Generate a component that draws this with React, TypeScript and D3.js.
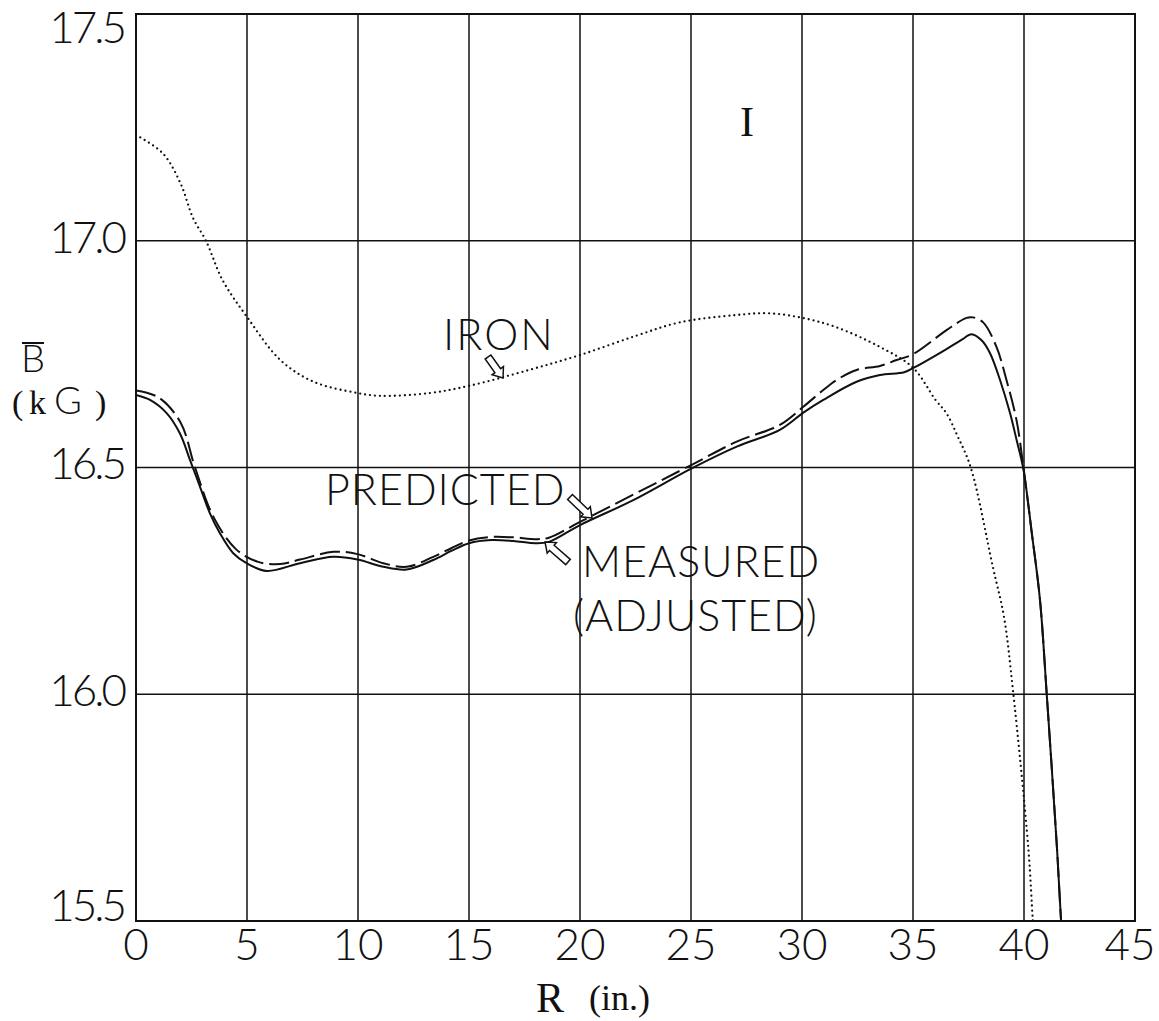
import React from "react";
import * as d3 from "d3";

const W = 1159;
const H = 1021;

const xTicks = [0, 5, 10, 15, 20, 25, 30, 35, 40, 45];
const yTicks = [15.5, 16.0, 16.5, 17.0, 17.5];
const yTickLabels = ["15.5", "16.0", "16.5", "17.0", "17.5"];

// IRON (dotted)
const ironR = [0, 1.2, 2, 2.57, 3.15, 3.9, 5, 6.5, 8, 10, 11, 13.2, 15, 17.7, 20, 22.5, 24.5, 27, 28.5, 30, 31.5, 33.5, 35, 36, 36.5, 37, 37.6, 38.6, 39.1, 39.5, 40.2, 40.4, 40.5];
const ironB = [17.233, 17.193, 17.127, 17.05, 17.0, 16.913, 16.832, 16.737, 16.689, 16.664, 16.658, 16.664, 16.68, 16.715, 16.748, 16.79, 16.82, 16.836, 16.84, 16.83, 16.81, 16.766, 16.72, 16.65, 16.62, 16.57, 16.5, 16.28, 16.17, 16.01, 15.657, 15.5, 15.44];

// MEASURED (ADJUSTED) (solid)
const measR = [0, 0.63, 1.38, 1.98, 2.43, 2.88, 3.33, 3.78, 4.38, 4.98, 5.89, 7.39, 8.89, 9.98, 11.14, 12.19, 13.39, 14.2, 15.0, 16.0, 17.0, 18.0, 18.6, 20.0, 22.4, 25.03, 27.06, 29.0, 30.06, 30.96, 32.46, 33.51, 34.6, 35.04, 36.3, 37.2, 37.64, 38.1, 38.47, 38.92, 39.37, 39.67, 39.97, 40.35, 40.72, 41.02, 41.49, 41.67, 41.75];
const measB = [16.66, 16.649, 16.62, 16.575, 16.517, 16.458, 16.399, 16.355, 16.311, 16.289, 16.272, 16.289, 16.303, 16.297, 16.281, 16.275, 16.296, 16.316, 16.333, 16.34, 16.338, 16.333, 16.336, 16.373, 16.428, 16.498, 16.546, 16.583, 16.621, 16.649, 16.689, 16.704, 16.71, 16.72, 16.755, 16.782, 16.794, 16.78, 16.752, 16.693, 16.62, 16.56, 16.497, 16.356, 16.208, 16.003, 15.657, 15.5, 15.45];

// PREDICTED (dashed)
const predR = [0, 1, 2, 2.66, 3.5, 4.5, 5.5, 6.5, 7.39, 8.89, 9.98, 11.14, 12.19, 13.39, 14.2, 15.0, 16.0, 17.0, 18.0, 18.6, 20.0, 25.03, 27.06, 29.0, 30.06, 30.96, 31.56, 32.46, 33.51, 34.26, 35.01, 36.51, 37.41, 37.71, 38.16, 38.76, 39.21, 39.66, 39.97, 40.35, 40.72, 41.02, 41.49, 41.67, 41.75];
const predB = [16.67, 16.655, 16.6, 16.5, 16.39, 16.32, 16.292, 16.287, 16.297, 16.314, 16.309, 16.289, 16.281, 16.303, 16.322, 16.339, 16.347, 16.346, 16.342, 16.345, 16.38, 16.506, 16.557, 16.594, 16.634, 16.671, 16.693, 16.715, 16.724, 16.737, 16.75, 16.803, 16.83, 16.831, 16.82, 16.766, 16.693, 16.605, 16.502, 16.356, 16.208, 16.003, 15.657, 15.5, 15.45];

const M = { left: 136, right: 1135, top: 14, bottom: 921 };

export default function App() {
  const x = d3.scaleLinear().domain([0, 45]).range([M.left, M.right]);
  const y = d3.scaleLinear().domain([15.5, 17.5]).range([M.bottom, M.top]);

  const mk = (rs: number[], bs: number[]) =>
    d3
      .line<number>()
      .x((_, i) => x(rs[i]))
      .y((_, i) => y(bs[i]))
      .curve(d3.curveCatmullRom.alpha(0.5))(rs) as string;

  const sans = "Lato, 'DejaVu Sans', sans-serif";
  const serif = "'Liberation Serif', 'DejaVu Serif', serif";

  const arrow = (x1: number, y1: number, x2: number, y2: number) => {
    const a = Math.atan2(y2 - y1, x2 - x1);
    const len = Math.hypot(x2 - x1, y2 - y1);
    const hw = 3.5;
    const hh = 7;
    const hl = 9;
    const pts = [
      [0, -hw],
      [len - hl, -hw],
      [len - hl, -hh],
      [len, 0],
      [len - hl, hh],
      [len - hl, hw],
      [0, hw],
    ].map(([u, v]) => [x1 + u * Math.cos(a) - v * Math.sin(a), y1 + u * Math.sin(a) + v * Math.cos(a)]);
    return "M" + pts.map((p) => p.join(",")).join("L") + "Z";
  };

  return (
    <svg width={W} height={H} style={{ position: "absolute", left: 0, top: 0, background: "#fff" }}>
      <defs>
        <clipPath id="plot">
          <rect x={M.left} y={M.top} width={M.right - M.left} height={M.bottom - M.top} />
        </clipPath>
      </defs>
      <rect width={W} height={H} fill="#fff" />
      {xTicks.map((t) => (
        <line key={"gx" + t} x1={x(t)} x2={x(t)} y1={M.top} y2={M.bottom} stroke="#111" strokeWidth={1.5} />
      ))}
      {yTicks.map((t) => (
        <line key={"gy" + t} x1={M.left} x2={M.right} y1={y(t)} y2={y(t)} stroke="#111" strokeWidth={1.5} />
      ))}
      <rect x={M.left} y={M.top} width={M.right - M.left} height={M.bottom - M.top} fill="none" stroke="#111" strokeWidth={2} />

      <g clipPath="url(#plot)" fill="none">
        <path d={mk(ironR, ironB)} stroke="#111" strokeWidth={2.3} strokeDasharray="0 5" strokeLinecap="round" />
        <path d={mk(measR, measB)} stroke="#111" strokeWidth={2} />
        <path d={mk(predR, predB)} stroke="#111" strokeWidth={2} strokeDasharray="20 6" />
      </g>

      {yTicks.map((t, i) => {
        const cy = Math.min(Math.max(y(t) - 4, 27), 905);
        return (
          <text key={"ly" + t} x={124} y={cy} dy="0.36em" textAnchor="end" fontFamily={sans} fontWeight={300} fontSize={44} letterSpacing={-3} fill="#111">
            {yTickLabels[i]}
          </text>
        );
      })}
      {xTicks.map((t) => (
        <text key={"lx" + t} x={Math.min(x(t), 1130)} y={960} textAnchor="middle" fontFamily={sans} fontWeight={300} fontSize={44} fill="#111">
          {t}
        </text>
      ))}

      <text x={536} y={1012} fontFamily={serif} fontSize={42} fill="#111">R</text>
      <text x={589} y={1010} fontFamily={serif} fontSize={36} fill="#111">(in.)</text>

      <text x={21} y={372} fontFamily={sans} fontWeight={300} fontSize={38} fill="#111">B</text>
      <line x1={22} x2={44} y1={343} y2={343} stroke="#111" strokeWidth={2} />
      <text x={12} y={414} fontFamily={serif} fontSize={34} fill="#111">(</text>
      <text x={29} y={414} fontFamily={serif} fontSize={34} fill="#111">k</text>
      <text x={54} y={414} fontFamily={sans} fontWeight={300} fontSize={38} fill="#111">G</text>
      <text x={95} y={414} fontFamily={serif} fontSize={34} fill="#111">)</text>

      <text x={747} y={136} textAnchor="middle" fontFamily={serif} fontSize={42} fill="#111">I</text>

      <text x={443} y={350} fontFamily={sans} fontWeight={300} fontSize={43} letterSpacing={2} fill="#111">IRON</text>
      <text x={325} y={505} fontFamily={sans} fontWeight={300} fontSize={43} letterSpacing={1} fill="#111">PREDICTED</text>
      <text x={582} y={577} fontFamily={sans} fontWeight={300} fontSize={43} letterSpacing={1} fill="#111">MEASURED</text>
      <text x={573} y={631} fontFamily={sans} fontWeight={300} fontSize={43} letterSpacing={1} fill="#111">(ADJUSTED)</text>

      <path d={arrow(488, 357, 503, 378)} fill="#fff" stroke="#111" strokeWidth={1.5} />
      <path d={arrow(570, 497, 592, 518)} fill="#fff" stroke="#111" strokeWidth={1.5} />
      <path d={arrow(568, 562, 545, 542)} fill="#fff" stroke="#111" strokeWidth={1.5} />
    </svg>
  );
}
